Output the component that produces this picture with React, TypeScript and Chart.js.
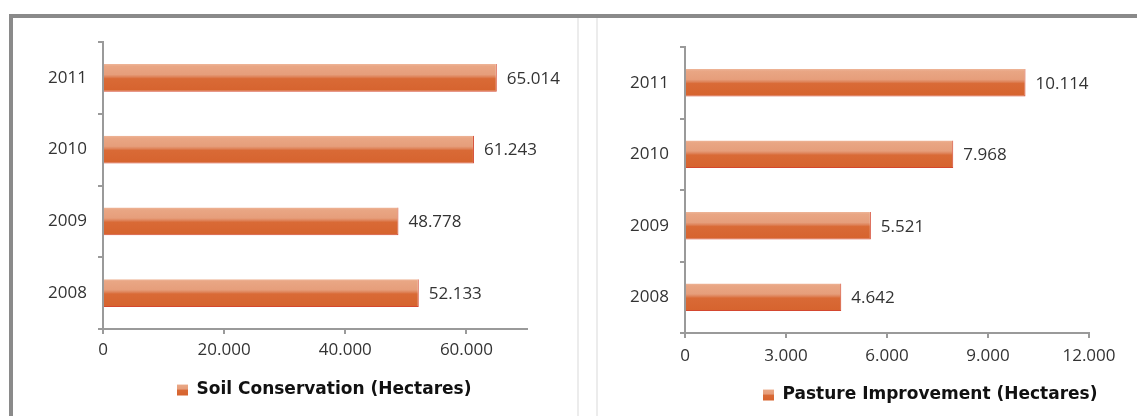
import React, { useEffect, useRef } from "react";
import { Chart, registerables } from "chart.js";

Chart.register(...registerables);

// ---------- data ----------
const years = ["2011", "2010", "2009", "2008"];
const soilValues = [65014, 61243, 48778, 52133];
const pastureValues = [10114, 7968, 5521, 4642];
const soilTicks = [0, 20000, 40000, 60000];
const pastureTicks = [0, 3000, 6000, 9000, 12000];
const soilMax = 70000;
const pastureMax = 12000;
const soilLabel = "Soil Conservation (Hectares)";
const pastureLabel = "Pasture Improvement (Hectares)";

// ---------- styles ----------
const TEXT = "#333333";
const AXIS = "#9a9a9a";
const TICK_FONT = { family: "'Open Sans', sans-serif", size: 17 };
const LEGEND_FONT = { family: "'DejaVu Sans', sans-serif", size: 17, weight: "bold" as const };
const CAT_PCT = 0.385;

function fmt(v: number): string {
  const s = String(Math.round(v));
  return s.replace(/\B(?=(\d{3})+(?!\d))/g, ".");
}

function addStops(g: CanvasGradient) {
  g.addColorStop(0, "#EEB598");
  g.addColorStop(0.08, "#E9A684");
  g.addColorStop(0.38, "#E69E7B");
  g.addColorStop(0.46, "#DF855C");
  g.addColorStop(0.53, "#D96A36");
  g.addColorStop(1, "#D6632E");
  return g;
}

function barFill(ctx: any) {
  const chart = ctx.chart;
  const y = chart.scales && chart.scales.y;
  if (ctx.type !== "data" || !y || !chart.chartArea) return "#DD7A4B";
  const c = y.getPixelForValue(ctx.dataIndex);
  const band = (y.bottom - y.top) / years.length;
  const half = (band * CAT_PCT) / 2;
  return addStops(chart.ctx.createLinearGradient(0, c - half, 0, c + half));
}

const valueLabels = {
  id: "valueLabels",
  afterDatasetsDraw(chart: any) {
    const c = chart.ctx;
    c.save();
    c.font = `${TICK_FONT.size}px ${TICK_FONT.family}`;
    c.fillStyle = TEXT;
    c.textBaseline = "middle";
    c.textAlign = "left";
    chart.data.datasets.forEach((ds: any, di: number) => {
      const meta = chart.getDatasetMeta(di);
      meta.data.forEach((el: any, i: number) => {
        c.fillText(fmt(ds.data[i]), el.x + 10, el.y + 1);
      });
    });
    c.restore();
  },
};

function makeLegendPlace(boxLeft: number, textCY: number) {
  return {
    id: "legendPlace",
    afterLayout(chart: any) {
      const lg = chart.legend;
      if (!lg) return;
      const p = lg.options.labels.padding;
      const w = lg.width;
      const h = lg.height;
      lg.left = boxLeft - p;
      lg.right = lg.left + w;
      lg.top = textCY - p - TICK_FONT.size / 2;
      lg.bottom = lg.top + h;
    },
  };
}

function buildConfig(opts: {
  label: string;
  values: number[];
  ticks: number[];
  max: number;
  padTop: number;
  padRight: number;
  padBottom: number;
  axisWidth: number;
  xTickPad: number;
  legendBox: number;
  legendCY: number;
}) {
  return {
    type: "bar" as const,
    data: {
      labels: years,
      datasets: [
        {
          label: opts.label,
          data: opts.values,
          backgroundColor: barFill,
          borderColor: "#D4472F",
          borderWidth: { top: 0, right: 1, bottom: 1, left: 0 },
          borderSkipped: "start",
          categoryPercentage: CAT_PCT,
          barPercentage: 1,
        },
      ],
    },
    options: {
      indexAxis: "y" as const,
      animation: false as const,
      responsive: false,
      maintainAspectRatio: false,
      layout: { padding: { top: opts.padTop, right: opts.padRight, bottom: opts.padBottom, left: 0 } },
      scales: {
        x: {
          type: "linear" as const,
          min: 0,
          max: opts.max,
          afterBuildTicks: (s: any) => {
            s.ticks = opts.ticks.map((v) => ({ value: v }));
          },
          afterFit: (s: any) => {
            s.height = 35;
          },
          grid: { drawOnChartArea: false, drawTicks: true, tickLength: 5, color: AXIS, lineWidth: 2 },
          border: { display: true, color: AXIS, width: 2 },
          ticks: {
            padding: opts.xTickPad,
            font: TICK_FONT,
            color: TEXT,
            maxRotation: 0,
            autoSkip: false,
            callback: (v: any) => fmt(Number(v)),
          },
        },
        y: {
          afterFit: (s: any) => {
            s.width = opts.axisWidth;
          },
          grid: { offset: true, drawOnChartArea: false, drawTicks: true, tickLength: 5, color: AXIS, lineWidth: 2 },
          border: { display: true, color: AXIS, width: 2 },
          ticks: { padding: 11, font: TICK_FONT, color: TEXT },
        },
      },
      plugins: {
        tooltip: { enabled: false },
        legend: {
          display: true,
          position: "bottom" as const,
          align: "start" as const,
          labels: {
            boxWidth: 11,
            boxHeight: 11,
            padding: 10,
            color: "#111111",
            font: LEGEND_FONT,
            generateLabels: (chart: any) => {
              const items = (Chart.defaults.plugins.legend.labels as any).generateLabels(chart);
              const lg = chart.legend;
              let fill: any = "#DD7A4B";
              if (lg && isFinite(lg.top)) {
                const y0 = lg.top + 10 + 3;
                fill = addStops(chart.ctx.createLinearGradient(0, y0, 0, y0 + 11));
              }
              items.forEach((it: any) => {
                it.fillStyle = fill;
                it.strokeStyle = "#E8A080";
                it.lineWidth = 0;
              });
              return items;
            },
          },
        },
      },
    },
    plugins: [valueLabels, makeLegendPlace(opts.legendBox, opts.legendCY)],
  };
}

function BarPanel(props: { cfg: any; width: number; height: number; left: number; top: number }) {
  const ref = useRef<HTMLCanvasElement | null>(null);
  useEffect(() => {
    if (!ref.current) return;
    const chart = new Chart(ref.current, props.cfg);
    return () => chart.destroy();
  }, []);
  return (
    <canvas
      ref={ref}
      width={props.width}
      height={props.height}
      style={{ position: "absolute", left: props.left, top: props.top, width: props.width, height: props.height }}
    />
  );
}

export default function App() {
  const leftCfg = buildConfig({
    label: soilLabel,
    values: soilValues,
    ticks: soilTicks,
    max: soilMax,
    padTop: 24,
    padRight: 50,
    padBottom: 15,
    axisWidth: 90,
    xTickPad: 6,
    legendBox: 164,
    legendCY: 372,
  });
  const rightCfg = buildConfig({
    label: pastureLabel,
    values: pastureValues,
    ticks: pastureTicks,
    max: pastureMax,
    padTop: 29,
    padRight: 48,
    padBottom: 11,
    axisWidth: 87,
    xTickPad: 8,
    legendBox: 165,
    legendCY: 377,
  });
  return (
    <div
      style={{
        position: "fixed",
        left: 0,
        top: 0,
        width: 1137,
        height: 416,
        background: "#ffffff",
        overflow: "hidden",
      }}
    >
      <div style={{ position: "absolute", left: 9, top: 14, width: 1128, height: 4, background: "#8a8a8a" }} />
      <div style={{ position: "absolute", left: 9, top: 14, width: 4, height: 402, background: "#8a8a8a" }} />
      <div style={{ position: "absolute", left: 577, top: 18, width: 2, height: 398, background: "#ececec" }} />
      <div style={{ position: "absolute", left: 596, top: 18, width: 2, height: 398, background: "#ececec" }} />
      <BarPanel cfg={leftCfg} width={564} height={398} left={13} top={18} />
      <BarPanel cfg={rightCfg} width={539} height={398} left={598} top={18} />
    </div>
  );
}
